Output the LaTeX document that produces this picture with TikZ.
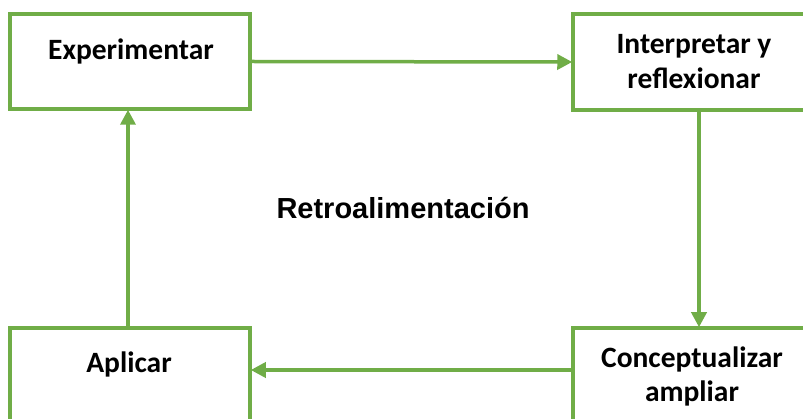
\documentclass[tikz,border=0pt]{standalone}
\usepackage{fontspec}
\setmainfont{Carlito}
\newfontfamily\arialfont{Liberation Sans}
\usetikzlibrary{arrows.meta}
\definecolor{grn}{HTML}{70AD47}
\tikzset{
  box/.style={draw=grn, line width=3.5pt, fill=white, rectangle, inner sep=0pt},
  boxtext/.style={font=\fontsize{29.5}{35}\selectfont\bfseries, align=center, inner sep=0pt},
  conn/.style={draw=grn, line width=3.5pt, -{Triangle[length=15pt,width=15pt]}, shorten >=-1pt}
}
\begin{document}
\begin{tikzpicture}[x=1pt,y=-1pt]
\useasboundingbox (0,0) rectangle (803,419);
\node[box, minimum width=240pt, minimum height=95pt] (exp) at (130,61.5) {};
\node[box, minimum width=242pt, minimum height=96pt] (int) at (694,62) {};
\node[box, minimum width=240pt, minimum height=102pt] (apl) at (130,379) {};
\node[box, minimum width=242pt, minimum height=102pt] (con) at (694,379) {};
\node[boxtext, anchor=base] (texp) at (131,60) {Experimentar};
\node[boxtext, anchor=base] (tint) at (694,89) {Interpretar y\\reflexionar};
\node[boxtext, anchor=base] (tapl) at (129,373) {Aplicar};
\node[boxtext, anchor=base] (tcon) at (692,402) {Conceptualizar\\ampliar};
\node[font=\arialfont\bfseries\fontsize{29}{34}\selectfont, anchor=base, inner sep=0pt] (retro) at (403,219) {Retroalimentación};
\draw[conn] (exp.east) -- (int.west);
\draw[conn] ([xshift=5pt]int.south) -- ([xshift=5pt]con.north);
\draw[conn] ([yshift=9pt]con.west) -- ([yshift=9pt]apl.east);
\draw[conn] ([xshift=-2pt]apl.north) -- ([xshift=-2pt]exp.south);
\end{tikzpicture}
\end{document}
